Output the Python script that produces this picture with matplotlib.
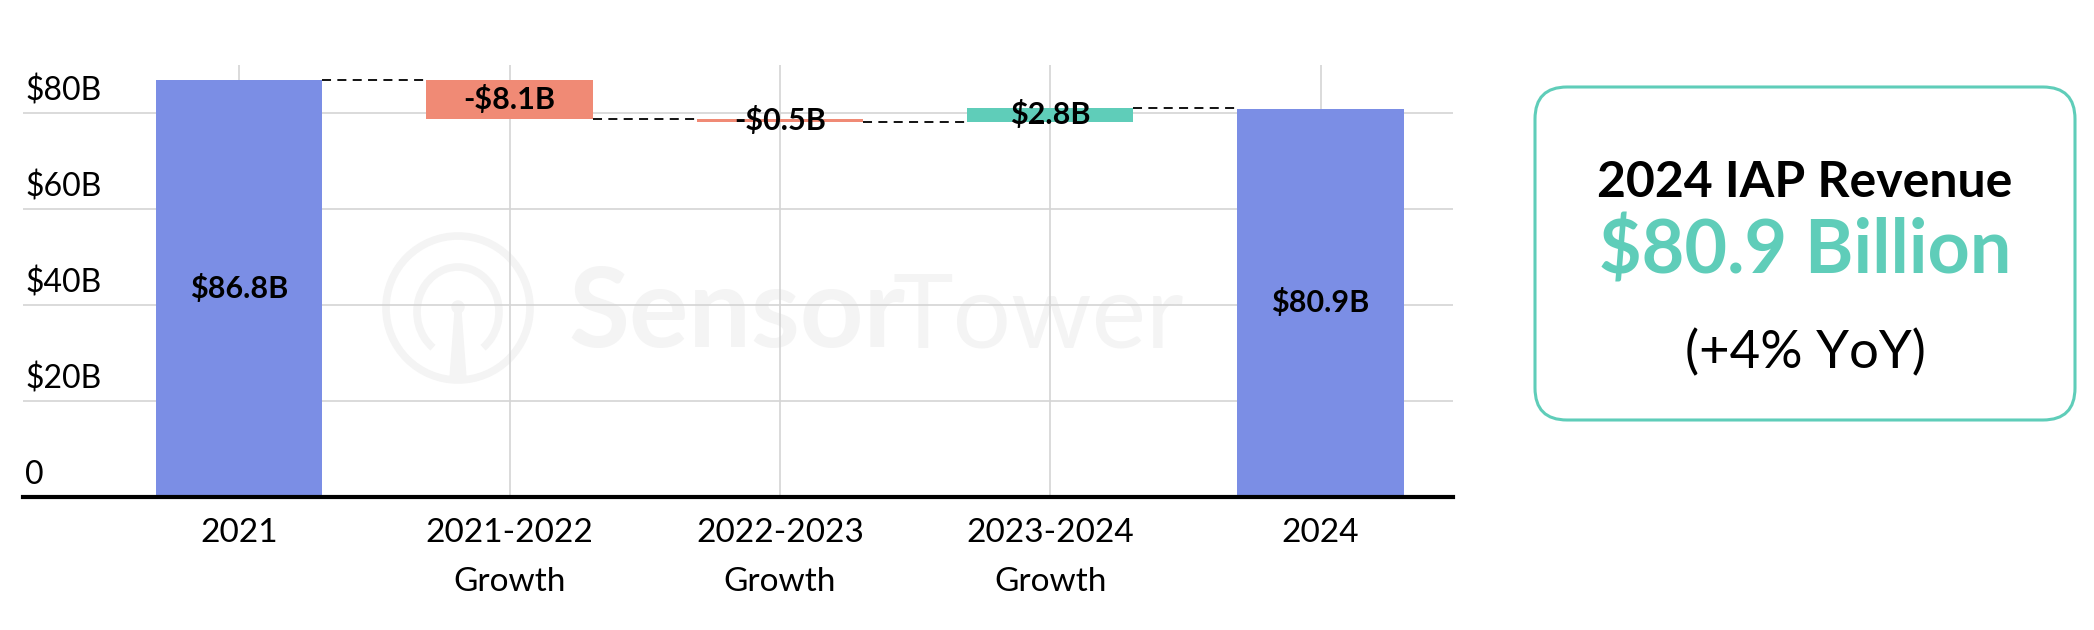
import matplotlib
matplotlib.use("Agg")
import matplotlib.pyplot as plt
from matplotlib.patches import FancyBboxPatch, Circle, Arc, Polygon

plt.rcParams['font.family'] = ['Lato', 'DejaVu Sans']

# data
categories = ["2021", "2021-2022\nGrowth", "2022-2023\nGrowth", "2023-2024\nGrowth", "2024"]
values = [86.8, -8.1, -0.5, 2.8, 80.9]
is_total = [True, False, False, False, True]
bar_labels = ["$86.8B", "-$8.1B", "-$0.5B", "$2.8B", "$80.9B"]
yticks = [0, 20, 40, 60, 80]
ytick_labels = ["0", "$20B", "$40B", "$60B", "$80B"]

BLUE = "#7b8ee5"
RED = "#f08a75"
TEAL = "#5fcdb9"

fig = plt.figure(figsize=(20.94, 6.3), dpi=100)
ax = fig.add_axes([23 / 2094, 1 - 497 / 630, (1453 - 23) / 2094, (497 - 65) / 630])

width = 0.615
running = 0.0
levels = []
for i, v in enumerate(values):
    if is_total[i]:
        bottom, height, color = 0, v, BLUE
        running = v
    else:
        bottom, height = running, v
        color = RED if v < 0 else TEAL
        running = running + v
    ax.bar(i, height, bottom=bottom, width=width, color=color, zorder=2)
    ax.text(i, bottom + height / 2, bar_labels[i], ha="center", va="center",
            fontsize=22, fontweight="bold", color="black", zorder=4)
    levels.append(running)

# dashed connectors between bars
for i in range(len(values) - 1):
    ax.plot([i + width / 2, i + 1 - width / 2], [levels[i], levels[i]],
            color="black", lw=1.3, dashes=(5, 3.5), zorder=3)

ax.set_xlim(-0.8, 4.49)
ax.set_ylim(0, 90)
ax.set_yticks(yticks)
ax.set_yticklabels([])
ax.set_xticks(range(len(categories)))
ax.set_xticklabels(categories, fontsize=24, linespacing=1.8)
ax.tick_params(length=0)
ax.tick_params(axis="x", pad=15)
ax.set_axisbelow(True)
ax.grid(True, color="#d4d4d4", lw=1.2)
for s in ["top", "right", "left"]:
    ax.spines[s].set_visible(False)
ax.spines["bottom"].set_linewidth(3)
ax.spines["bottom"].set_zorder(5)

for t, lab in zip(yticks, ytick_labels):
    ax.annotate(lab, xy=(0, t), xycoords=("axes fraction", "data"),
                xytext=(2, 13), textcoords="offset pixels",
                ha="left", va="baseline", fontsize=23)

# faint watermark
wm = "#f4f4f4"
tr = fig.dpi_scale_trans
def px(x, y):
    return (x / 100, (630 - y) / 100)
ax.add_patch(Circle(px(458, 308), 0.72, transform=tr, fill=False, ec=wm, lw=5.5, zorder=0.1))
ax.add_patch(Arc(px(458, 312), 0.82, 0.9, angle=0, theta1=-55, theta2=235,
                 transform=tr, color=wm, lw=5.5, zorder=0.1))
ax.add_patch(Circle(px(458, 307), 0.06, transform=tr, color=wm, zorder=0.1))
ax.add_patch(Polygon([px(455, 312), px(461, 312), px(466, 378), px(450, 378)],
                     transform=tr, color=wm, zorder=0.1))
ax.text(*px(568, 347), "Sensor", transform=tr, fontsize=80, fontweight="bold",
        color=wm, ha="left", va="baseline", zorder=0.1)
ax.text(*px(893, 347), "Tower", transform=tr, fontsize=74, fontweight="normal",
        color=wm, ha="left", va="baseline", zorder=0.1)

# summary box on the right
box = FancyBboxPatch(px(1535, 420), 5.40, 3.33, boxstyle="round,pad=0,rounding_size=0.32",
                     transform=tr, fill=False, ec=TEAL, lw=2.2)
fig.add_artist(box)
cx = 1805 / 2094
fig.text(cx, 1 - 197 / 630, "2024 IAP Revenue", ha="center", va="baseline",
         fontsize=36, fontweight="bold", color="black")
fig.text(cx, 1 - 273 / 630, "$80.9 Billion", ha="center", va="baseline",
         fontsize=53, fontweight="bold", color=TEAL)
fig.text(cx, 1 - 368 / 630, "(+4% YoY)", ha="center", va="baseline",
         fontsize=38, color="black")

fig.savefig("out.png", dpi=100)
